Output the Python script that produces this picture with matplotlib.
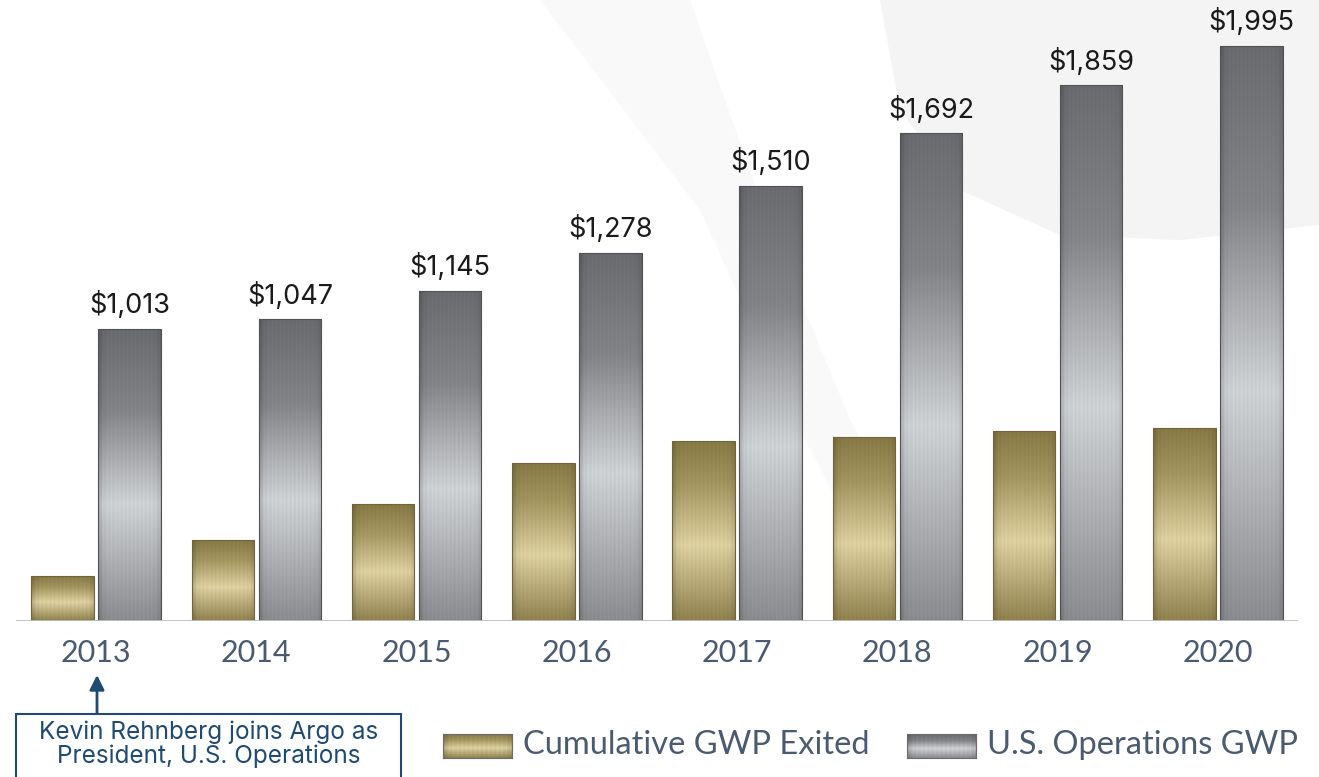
import numpy as np
import matplotlib.pyplot as plt
import matplotlib.colors as mcolors
from matplotlib.patches import Rectangle, Polygon

years = ['2013', '2014', '2015', '2016', '2017', '2018', '2019', '2020']
gwp_exited = [156, 281, 406, 548, 625, 638, 659, 670]
us_ops_gwp = [1013, 1047, 1145, 1278, 1510, 1692, 1859, 1995]
value_labels = ['$1,013', '$1,047', '$1,145', '$1,278', '$1,510', '$1,692', '$1,859', '$1,995']
legend_labels = ['Cumulative GWP Exited', 'U.S. Operations GWP']
note = 'Kevin Rehnberg joins Argo as\nPresident, U.S. Operations'

W, H = 1319, 777
text_col = '#4a5a70'
navy = '#1f4a72'

gold_stops = ([0, 0.42, 0.75, 1], ['#8f814e', '#ddd1a0', '#a49660', '#877945'])
gray_stops = ([0, 0.4, 0.72, 1], ['#8a8b8e', '#cfd2d5', '#838487', '#6a6b6e'])


def texture(stops, n=240, m=80):
    t = np.linspace(0, 1, n)
    cols = np.array([mcolors.to_rgb(c) for c in stops[1]])
    prof = np.stack([np.interp(t, stops[0], cols[:, k]) for k in range(3)], axis=1)
    x = np.linspace(0, 1, m)
    shade = 1 - 0.22 * np.exp(-x / 0.05) - 0.12 * np.exp(-(1 - x) / 0.05)
    shade = shade * (1 + 0.025 * np.sin(x * 97) + 0.02 * np.sin(x * 211 + 1.3))
    return np.clip(prof[:, None, :] * shade[None, :, None], 0, 1)


fig = plt.figure(figsize=(W / 100, H / 100), dpi=100)

# faint background swirls, in their own axes behind everything
bgax = fig.add_axes([0, 0, 1, 1], zorder=-1)
bgax.set_xlim(0, W)
bgax.set_ylim(H, 0)
bgax.axis('off')
bgax.add_patch(Polygon(
    [(880, 0), (900, 110), (960, 190), (1060, 235), (1180, 240), (1319, 225), (1319, 0)],
    closed=True, facecolor='#f4f4f4', edgecolor='none'))
bgax.add_patch(Polygon(
    [(540, 0), (690, 0), (760, 200), (850, 420), (960, 620), (900, 620), (800, 430), (700, 210)],
    closed=True, facecolor='#f9f9f9', edgecolor='none'))

ax = fig.add_axes([16 / W, 156 / H, 1282 / W, 621 / H], zorder=1)
ax.patch.set_alpha(0)

x = np.arange(len(years))
bw = 0.39
off = 0.209
b1 = ax.bar(x - off, gwp_exited, bw, facecolor='none', edgecolor='#6f6539', linewidth=0.8, zorder=3)
b2 = ax.bar(x + off, us_ops_gwp, bw, facecolor='none', edgecolor='#505155', linewidth=0.8, zorder=3)

for bars, stops in [(b1, gold_stops), (b2, gray_stops)]:
    img = texture(stops)
    for p in bars:
        x0, y0 = p.get_x(), p.get_y()
        im = ax.imshow(img, extent=[x0, x0 + p.get_width(), y0, y0 + p.get_height()],
                       origin='lower', aspect='auto', interpolation='bilinear', zorder=2)
        im.set_clip_path(p)

for b, lab in zip(b2, value_labels):
    ax.annotate(lab, (b.get_x() + b.get_width() / 2, b.get_height()),
                xytext=(0, 7), textcoords='offset points', ha='center', va='bottom',
                fontsize=19.5, color='#1a1a1a', family='Inter')

ax.axhline(0, color='#bfbfbf', lw=2, zorder=4)
ax.set_xlim(-0.5, 7.5)
ax.set_ylim(0, 2155)
ax.set_xticks(x)
ax.set_xticklabels(years, fontsize=22, color=text_col, family='Lato')
ax.tick_params(axis='x', length=0, pad=13)
ax.set_yticks([])
for s in ax.spines.values():
    s.set_visible(False)

# legend
for sx, tx, stops, lab in [(443, 523, gold_stops, legend_labels[0]),
                           (907, 987, gray_stops, legend_labels[1])]:
    sa = fig.add_axes([sx / W, (H - 758) / H, 69 / W, 24 / H], zorder=2)
    sa.imshow(texture(stops), aspect='auto', origin='lower', interpolation='bilinear')
    sa.set_xticks([])
    sa.set_yticks([])
    for s in sa.spines.values():
        s.set_color('#6b6b6b')
        s.set_linewidth(0.8)
    fig.text(tx / W, (H - 745) / H, lab, fontsize=23.5, color=text_col, family='Lato',
             ha='left', va='center')

# annotation box + arrow
fig.patches.append(Rectangle((16 / W, -0.05), (401 - 16) / W, 0.05 + (H - 714) / H,
                             transform=fig.transFigure, facecolor='white',
                             edgecolor=navy, linewidth=1.5, zorder=5))
fig.text(209 / W, (H - 744) / H, note, fontsize=17.5, color=navy, family='Inter',
         ha='center', va='center', linespacing=1.0, zorder=6)
ax.annotate('', xy=(97 / W, (H - 675) / H), xytext=(97 / W, (H - 714) / H),
            xycoords='figure fraction', textcoords='figure fraction',
            arrowprops=dict(arrowstyle='-|>', color=navy, lw=2, mutation_scale=22,
                            shrinkA=0, shrinkB=0))

fig.savefig('out.png', dpi=100)
